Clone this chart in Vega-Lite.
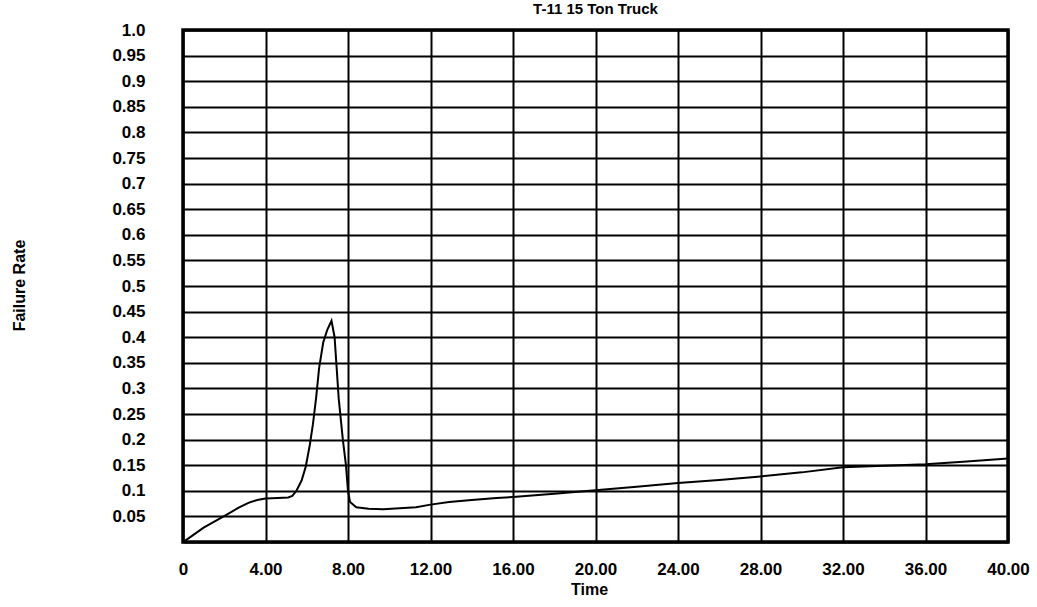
{
  "$schema": "https://vega.github.io/schema/vega-lite/v6.json",
  "autosize": "none",
  "width": 825,
  "height": 512,
  "padding": {"left": 183, "top": 30, "right": 29, "bottom": 65},
  "background": "white",
  "title": {"text": "T-11 15 Ton Truck", "font": "Liberation Sans", "fontSize": 15, "fontWeight": "bold", "color": "black", "anchor": "middle", "offset": 4},
  "config": {
    "view": {"stroke": "black", "strokeWidth": 3.5},
    "axis": {"gridColor": "black", "gridOpacity": 1, "gridWidth": 2, "domain": false, "ticks": false, "labelFont": "Liberation Sans", "labelFontWeight": "bold", "labelFontSize": 17, "labelColor": "black", "titleFont": "Liberation Sans", "titleFontWeight": "bold", "titleColor": "black", "titleFontSize": 16}
  },
  "data": {"values": [
    {"t": 0, "v": 0.0},
    {"t": 0.3, "v": 0.008},
    {"t": 1.0, "v": 0.028},
    {"t": 2.1, "v": 0.053},
    {"t": 2.7, "v": 0.067},
    {"t": 3.2, "v": 0.077},
    {"t": 3.6, "v": 0.082},
    {"t": 4.0, "v": 0.085},
    {"t": 4.6, "v": 0.086},
    {"t": 5.1, "v": 0.087},
    {"t": 5.3, "v": 0.09},
    {"t": 5.5, "v": 0.1},
    {"t": 5.75, "v": 0.12},
    {"t": 5.95, "v": 0.147},
    {"t": 6.15, "v": 0.19},
    {"t": 6.3, "v": 0.23},
    {"t": 6.45, "v": 0.28},
    {"t": 6.6, "v": 0.34},
    {"t": 6.8, "v": 0.39},
    {"t": 7.0, "v": 0.415},
    {"t": 7.2, "v": 0.432},
    {"t": 7.35, "v": 0.4},
    {"t": 7.55, "v": 0.28},
    {"t": 7.75, "v": 0.2},
    {"t": 7.9, "v": 0.15},
    {"t": 8.0, "v": 0.1},
    {"t": 8.1, "v": 0.078},
    {"t": 8.4, "v": 0.068},
    {"t": 9.0, "v": 0.065},
    {"t": 9.7, "v": 0.064},
    {"t": 10.5, "v": 0.066},
    {"t": 11.3, "v": 0.068},
    {"t": 12.0, "v": 0.073},
    {"t": 12.9, "v": 0.078},
    {"t": 14.0, "v": 0.082},
    {"t": 15.2, "v": 0.086},
    {"t": 16.0, "v": 0.088},
    {"t": 18.0, "v": 0.094},
    {"t": 20.0, "v": 0.101},
    {"t": 22.0, "v": 0.108},
    {"t": 24.0, "v": 0.115},
    {"t": 26.0, "v": 0.121},
    {"t": 28.0, "v": 0.128},
    {"t": 30.0, "v": 0.136},
    {"t": 32.0, "v": 0.146},
    {"t": 34.0, "v": 0.149},
    {"t": 36.0, "v": 0.152},
    {"t": 38.0, "v": 0.157},
    {"t": 40.0, "v": 0.163}
  ]},
  "mark": {"type": "line", "color": "black", "strokeWidth": 2},
  "encoding": {
    "x": {"field": "t", "type": "quantitative", "scale": {"domain": [0, 40], "nice": false},
      "axis": {"title": "Time", "values": [0, 4, 8, 12, 16, 20, 24, 28, 32, 36, 40], "labelExpr": "datum.value == 0 ? '0' : format(datum.value, '.2f')", "labelPadding": 19, "titleX": 406, "titleY": 47, "titleBaseline": "middle", "titleAlign": "center", "labelFlush": false}},
    "y": {"field": "v", "type": "quantitative", "scale": {"domain": [0, 1], "nice": false},
      "axis": {"title": "Failure Rate", "values": [0, 0.05, 0.1, 0.15, 0.2, 0.25, 0.3, 0.35, 0.4, 0.45, 0.5, 0.55, 0.6, 0.65, 0.7, 0.75, 0.8, 0.85, 0.9, 0.95, 1], "labelExpr": "datum.value == 0 ? '' : datum.value == 1 ? '1.0' : format(datum.value, '.2~f')", "labelPadding": 38, "titleX": -164, "titleY": 255, "titleAngle": -90, "titleBaseline": "middle", "titleAlign": "center", "labelFlush": false}}
  }
}
